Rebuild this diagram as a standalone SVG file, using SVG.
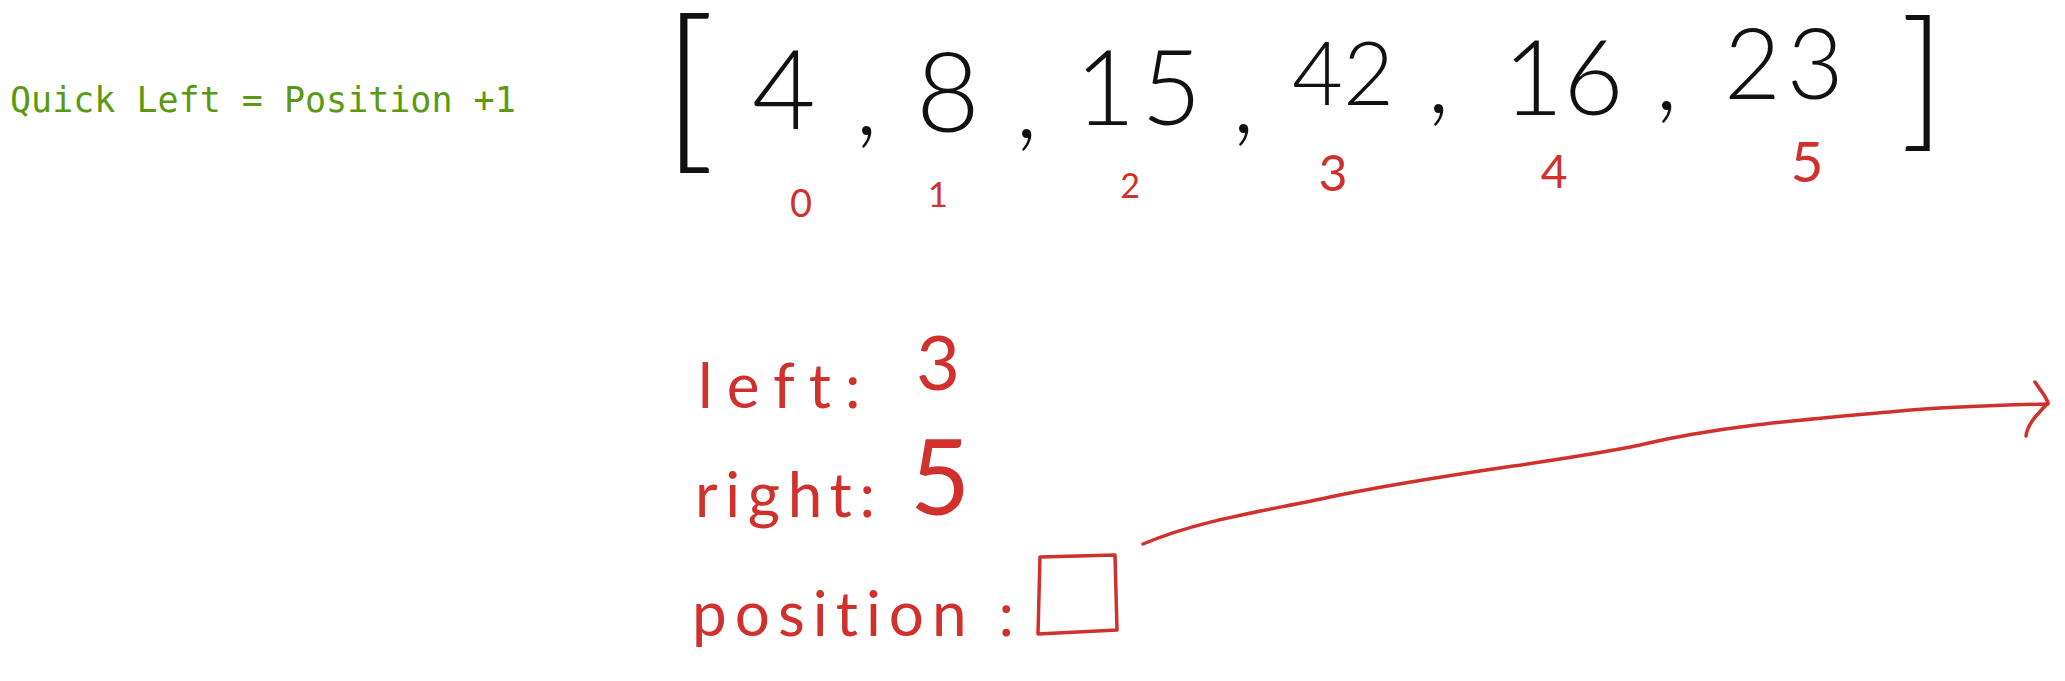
<svg xmlns="http://www.w3.org/2000/svg" width="2065" height="681" viewBox="0 0 2065 681">
<style>
text{font-variant-ligatures:none;font-feature-settings:"liga" 0,"clig" 0}
.ink{font-family:Lato,"Open Sans","Liberation Sans",sans-serif;font-weight:300;fill:#111}
.red{font-family:Lato,"Open Sans","Liberation Sans",sans-serif;font-weight:400;fill:#d0312d}
.title{font-family:"DejaVu Sans Mono","Liberation Mono",monospace;font-size:35px;fill:#5a9a10}
.stroke{fill:none;stroke:#d0312d;stroke-width:3.5;stroke-linecap:round;stroke-linejoin:round}
</style>
<rect width="2065" height="681" fill="#fff"/>
<g id="title"><text class="title" x="10" y="112">Quick Left = Position +1</text></g>
<g id="array">
<text class="ink" x="662" y="149" font-size="180">[</text>
<text class="ink" x="1900" y="131" font-size="152">]</text>
<text class="ink" x="752" y="129" font-size="110">4</text>
<text class="ink" x="855" y="135" font-size="105">,</text>
<text class="ink" x="916" y="132" font-size="110">8</text>
<text class="ink" x="1015" y="138" font-size="105">,</text>
<text class="ink" x="1075" y="125" font-size="104" letter-spacing="6">15</text>
<text class="ink" x="1232" y="133" font-size="105">,</text>
<text class="ink" x="1292" y="105" font-size="88">42</text>
<text class="ink" x="1427" y="113" font-size="105">,</text>
<text class="ink" x="1503" y="115" font-size="104">16</text>
<text class="ink" x="1655" y="110" font-size="105">,</text>
<text class="ink" x="1724" y="99" font-size="98" letter-spacing="6">23</text>
</g>
<g id="indices">
<text class="red" x="801" y="217" font-size="38" text-anchor="middle">0</text>
<text class="red" x="938" y="207" font-size="35" text-anchor="middle">1</text>
<text class="red" x="1130" y="198" font-size="34" text-anchor="middle">2</text>
<text class="red" x="1333" y="191" font-size="50" text-anchor="middle">3</text>
<text class="red" x="1554" y="188" font-size="46" text-anchor="middle">4</text>
<text class="red" x="1807" y="182" font-size="57" text-anchor="middle">5</text>
</g>
<g id="left">
<text class="red" x="698" y="408" font-size="62" letter-spacing="14">left:</text>
<text class="red" x="916" y="390" font-size="76">3</text>
</g>
<g id="right">
<text class="red" x="695" y="517" font-size="62" textLength="180" lengthAdjust="spacing">right:</text>
<text class="red" x="910" y="515" font-size="104">5</text>
</g>
<g id="position">
<text class="red" x="692" y="636" font-size="62" textLength="322" lengthAdjust="spacing">position :</text>
<path class="stroke" d="M1040,557 L1115,555 L1117,630 L1038,634 Z"/>
</g>
<g id="connectors">
<path class="stroke" d="M1143,544 C1200,520 1260,512 1330,497 C1450,472 1560,462 1640,445 C1720,426 1800,420 1900,411 C1960,406 2010,405 2048,404"/>
<path class="stroke" d="M2035,382 C2040,390 2046,396 2048,403 C2040,412 2028,422 2026,436"/>
</g>
</svg>
